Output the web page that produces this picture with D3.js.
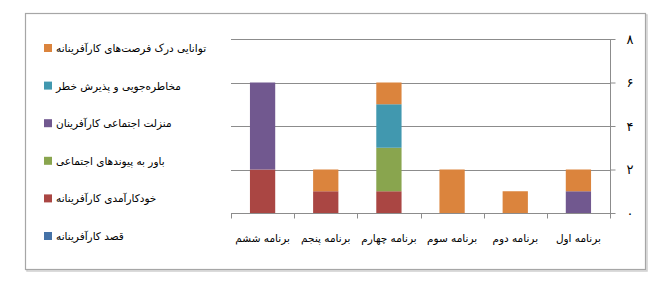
<!DOCTYPE html>
<html>
<head>
<meta charset="utf-8">
<script src="https://cdnjs.cloudflare.com/ajax/libs/d3/7.8.5/d3.min.js"></script>
<style>
  body { margin: 0; background: #fff; }
  text { font-family: "DejaVu Sans", sans-serif; }
</style>
</head>
<body>
<div id="chart"></div>
<script>
// categories from first to sixth plan (drawn right to left)
const categories = ["برنامه اول", "برنامه دوم", "برنامه سوم", "برنامه چهارم", "برنامه پنجم", "برنامه ششم"];
// series in stacking order, bottom first
const seriesNames = [
  "قصد کارآفرینانه",
  "خودکارآمدی کارآفرینانه",
  "باور به پیوندهای اجتماعی",
  "منزلت اجتماعی کارآفرینان",
  "مخاطره‌جویی و پذیرش خطر",
  "توانایی درک فرصت‌های کارآفرینانه"
];
const seriesColors = ["#4572A7", "#AA4643", "#89A54E", "#71588F", "#4198AF", "#DB843D"];
const qasd = [0, 0, 0, 0, 0, 0];
const khodkaramadi = [0, 0, 0, 1, 1, 2];
const bavar = [0, 0, 0, 2, 0, 0];
const manzelat = [1, 0, 0, 0, 0, 4];
const mokhatere = [0, 0, 0, 2, 0, 0];
const tavanayi = [1, 1, 2, 1, 1, 0];
const yTicks = [0, 2, 4, 6, 8];

const seriesValues = [qasd, khodkaramadi, bavar, manzelat, mokhatere, tavanayi];

function drawChart(id) {
  const w = 662, h = 294;
  const plot = { left: 231, right: 610, top: 39, bottom: 213 };

  const svg = d3.select(`#${id}`).append("svg")
    .attr("width", w).attr("height", h);

  // outer frame with a light shadow
  svg.append("rect")
    .attr("x", 27).attr("y", 15)
    .attr("width", 620).attr("height", 256)
    .attr("fill", "none").attr("stroke", "#d0d0d0").attr("stroke-width", 1.5);
  svg.append("rect")
    .attr("x", 25.5).attr("y", 13.5)
    .attr("width", 620).attr("height", 256)
    .attr("fill", "#fff").attr("stroke", "#a6a6a6").attr("stroke-width", 1.2);

  const rows = categories.map((c, i) => {
    const r = { cat: c };
    seriesNames.forEach((s, j) => { r[s] = seriesValues[j][i]; });
    return r;
  });
  const stacked = d3.stack().keys(seriesNames)(rows);

  const x = d3.scaleBand()
    .domain(categories)
    .range([plot.right, plot.left])
    .paddingInner(0.6).paddingOuter(0.3);
  const xb = d3.scaleBand().domain(categories).range([plot.right, plot.left]);

  const y = d3.scaleLinear().domain([0, 8]).range([plot.bottom, plot.top]);

  // gridlines
  svg.append("g")
    .selectAll("line")
    .data(yTicks.filter(d => d > 0))
    .join("line")
    .attr("x1", plot.left).attr("x2", plot.right)
    .attr("y1", d => Math.round(y(d)) + 0.5).attr("y2", d => Math.round(y(d)) + 0.5)
    .attr("stroke", "#8c8c8c").attr("stroke-width", 1);

  // bars
  svg.append("g")
    .selectAll("g")
    .data(stacked)
    .join("g")
    .attr("fill", (d, i) => seriesColors[i])
    .selectAll("rect")
    .data(d => d)
    .join("rect")
    .attr("x", d => x(d.data.cat))
    .attr("width", x.bandwidth())
    .attr("y", d => y(d[1]))
    .attr("height", d => y(d[0]) - y(d[1]));

  // y axis on the right with Persian digits
  const fa = n => String(n).replace(/\d/g, c => "۰۱۲۳۴۵۶۷۸۹"[+c]);
  const yAxis = svg.append("g")
    .attr("transform", `translate(${plot.right + 0.5},0)`)
    .call(d3.axisRight(y).tickValues(yTicks).tickSize(5).tickPadding(11).tickFormat(fa));
  yAxis.select(".domain").attr("stroke", "#8c8c8c").attr("d", `M0,${plot.top}V${plot.bottom + 0.5}`);
  yAxis.selectAll(".tick line").attr("stroke", "#8c8c8c");
  yAxis.selectAll(".tick text")
    .style("font-family", "DejaVu Sans").style("font-size", "13px").attr("fill", "#000");

  // category axis
  const xAxis = svg.append("g")
    .attr("transform", `translate(0,${plot.bottom + 0.5})`)
    .call(d3.axisBottom(x).tickSize(0).tickPadding(21));
  xAxis.select(".domain").attr("stroke", "#8c8c8c").attr("d", `M${plot.left},0H${plot.right + 1}`);
  xAxis.selectAll(".tick text")
    .style("font-family", "DejaVu Sans").style("font-size", "10.5px").attr("fill", "#000");
  const edges = categories.map(c => xb(c)).concat([plot.right]);
  xAxis.selectAll(".edge")
    .data(edges)
    .join("line")
    .attr("class", "edge")
    .attr("x1", d => Math.round(d) + 0.5).attr("x2", d => Math.round(d) + 0.5)
    .attr("y1", 0).attr("y2", 5)
    .attr("stroke", "#8c8c8c");

  // legend on the left, top item is the last series
  const legendY = d3.scalePoint()
    .domain(seriesNames.slice().reverse())
    .range([48, 236]);
  const legend = svg.append("g")
    .selectAll("g")
    .data(seriesNames)
    .join("g")
    .attr("transform", d => `translate(44,${legendY(d)})`);
  legend.append("rect")
    .attr("x", 0).attr("y", -4).attr("width", 8).attr("height", 8)
    .attr("fill", (d, i) => seriesColors[i]);
  legend.append("text")
    .attr("x", 12).attr("y", 4)
    .style("font-size", "10.5px").attr("fill", "#000")
    .text(d => d);
}

document.addEventListener("DOMContentLoaded", function () {
  drawChart("chart");
});
</script>
</body>
</html>
